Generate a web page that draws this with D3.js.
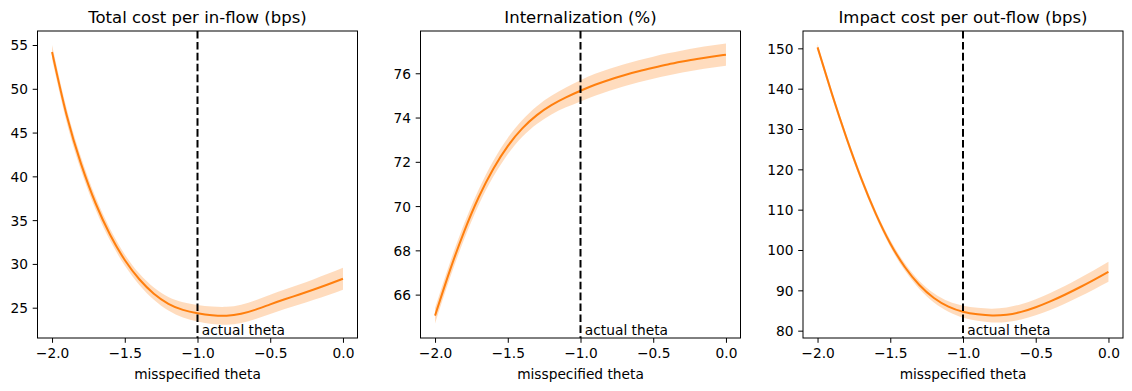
<!DOCTYPE html>
<html>
<head>
<meta charset="utf-8">
<script src="https://cdn.jsdelivr.net/npm/d3@7"></script>
<style>
  body { margin: 0; background: #fff; }
  svg { display: block; font-family: "DejaVu Sans", sans-serif; }
  .tick text { font-size: 13.75px; fill: #000; font-family: "DejaVu Sans", sans-serif; }
</style>
</head>
<body>
<svg></svg>
<script>
// misspecified theta grid
var theta = [-2.0, -1.9, -1.8, -1.7, -1.6, -1.5, -1.4, -1.3, -1.2, -1.1, -1.0,
             -0.9, -0.8, -0.7, -0.6, -0.5, -0.4, -0.3, -0.2, -0.1, 0.0]

var xTicks = [-2.0, -1.5, -1.0, -0.5, 0.0]
var actualTheta = -1.0

// Total cost per in-flow (bps)
var costMean  = [54.2, 47.0, 41.4, 36.9, 33.3, 30.45, 28.25, 26.6, 25.45, 24.75, 24.37,
                 24.14, 24.08, 24.3, 24.78, 25.38, 25.96, 26.51, 27.08, 27.68, 28.31]
var costLower = [53.4, 46.22, 40.65, 36.2, 32.64, 29.81, 27.6, 25.9, 24.67, 23.87, 23.42,
                 23.14, 23.06, 23.25, 23.7, 24.28, 24.84, 25.36, 25.9, 26.46, 27.06]
var costUpper = [55.0, 47.78, 42.15, 37.6, 33.96, 31.09, 28.9, 27.3, 26.23, 25.63, 25.32,
                 25.14, 25.1, 25.35, 25.86, 26.48, 27.08, 27.66, 28.26, 28.9, 29.56]
var costTicks = [25, 30, 35, 40, 45, 50, 55]

// Internalization (%)
var intMean  = [65.05, 67.05, 68.85, 70.4, 71.68, 72.71, 73.51, 74.11, 74.56, 74.91, 75.21,
                75.48, 75.71, 75.91, 76.09, 76.25, 76.4, 76.53, 76.65, 76.75, 76.84]
var intLower = [64.7, 66.7, 68.5, 70.05, 71.32, 72.34, 73.13, 73.71, 74.14, 74.46, 74.73,
                74.98, 75.21, 75.41, 75.59, 75.75, 75.9, 76.03, 76.15, 76.25, 76.34]
var intUpper = [65.4, 67.4, 69.2, 70.75, 72.04, 73.08, 73.89, 74.51, 74.98, 75.36, 75.69,
                75.98, 76.21, 76.41, 76.59, 76.75, 76.9, 77.03, 77.15, 77.25, 77.34]
var intTicks = [66, 68, 70, 72, 74, 76]

// Impact cost per out-flow (bps)
var impMean  = [150.25, 138.58, 127.69, 117.77, 109.02, 101.63, 95.79, 91.32, 88.11, 85.97, 84.7,
                84.05, 83.75, 83.95, 84.65, 85.8, 87.25, 88.9, 90.7, 92.6, 94.6]
var impLower = [149.45, 137.78, 126.89, 116.97, 108.22, 100.78, 94.89, 90.32, 86.96, 84.67, 83.2,
                82.45, 82.05, 82.15, 82.75, 83.8, 85.15, 86.7, 88.4, 90.2, 92.1]
var impUpper = [151.05, 139.38, 128.49, 118.57, 109.82, 102.48, 96.69, 92.32, 89.26, 87.27, 86.2,
                85.65, 85.45, 85.75, 86.55, 87.8, 89.35, 91.1, 93.0, 95.0, 97.1]
var impTicks = [80, 90, 100, 110, 120, 130, 140, 150]

var width = 1132
var height = 391
var plotTop = 31, plotBottom = 338, panelW = 320
var orange = "#ff7f0e"

var svg = d3.select("svg")
    .attr("width", width)
    .attr("height", height)

var panels = [
    {title: "Total cost per in-flow (bps)", left: 37.5, yDomain: [21.54, 56.6],
     mean: costMean, lower: costLower, upper: costUpper, ticks: costTicks},
    {title: "Internalization (%)", left: 420.5, yDomain: [64.04, 77.91],
     mean: intMean, lower: intLower, upper: intUpper, ticks: intTicks},
    {title: "Impact cost per out-flow (bps)", left: 803, yDomain: [78.18, 154.3],
     mean: impMean, lower: impLower, upper: impUpper, ticks: impTicks}
]

function drawPanel(p){
    var xScale = d3.scaleLinear()
                    .domain([-2.1, 0.1])
                    .range([p.left, p.left + panelW])
    var yScale = d3.scaleLinear()
                    .domain(p.yDomain)
                    .range([plotBottom, plotTop])

    var g = svg.append("g")

    var rows = theta.map(function(t, i){
        return {x: t, m: p.mean[i], lo: p.lower[i], hi: p.upper[i]}
    })

    // confidence band
    g.append("path")
        .datum(rows)
        .attr("fill", orange)
        .attr("fill-opacity", 0.27)
        .attr("d", d3.area()
            .x(d => xScale(d.x))
            .y0(d => yScale(d.lo))
            .y1(d => yScale(d.hi))
            .curve(d3.curveNatural))

    g.append("path")
        .datum(rows)
        .attr("fill", "none")
        .attr("stroke", orange)
        .attr("stroke-width", 2)
        .attr("d", d3.line()
            .x(d => xScale(d.x))
            .y(d => yScale(d.m))
            .curve(d3.curveNatural))

    // actual theta marker
    g.append("line")
        .attr("x1", xScale(actualTheta))
        .attr("x2", xScale(actualTheta))
        .attr("y1", plotTop)
        .attr("y2", plotBottom)
        .attr("stroke", "#000")
        .attr("stroke-width", 2)
        .attr("stroke-dasharray", "7.6,3.3")

    g.append("text")
        .text("actual theta")
        .attr("x", xScale(actualTheta + 0.03))
        .attr("y", 334.5)
        .attr("font-size", 13.75)

    var xAxis = d3.axisBottom(xScale)
                    .tickValues(xTicks)
                    .tickFormat(d3.format(".1f"))
                    .tickSize(4.8)
                    .tickPadding(5.7)
                    .tickSizeOuter(0)
    var yAxis = d3.axisLeft(yScale)
                    .tickValues(p.ticks)
                    .tickSize(4.8)
                    .tickPadding(4.8)
                    .tickSizeOuter(0)

    var gx = g.append("g")
        .attr("transform", "translate(0," + plotBottom + ")")
        .call(xAxis)
    var gy = g.append("g")
        .attr("transform", "translate(" + p.left + ",0)")
        .call(yAxis)
    gx.select(".domain").remove()
    gy.select(".domain").remove()
    gy.selectAll(".tick text").attr("dy", "0.36em")
    g.selectAll(".tick line").attr("stroke", "#000").attr("stroke-width", 1)

    // frame
    g.append("rect")
        .attr("x", p.left)
        .attr("y", plotTop)
        .attr("width", panelW)
        .attr("height", plotBottom - plotTop)
        .attr("fill", "none")
        .attr("stroke", "#000")
        .attr("stroke-width", 1)

    g.append("text")
        .text(p.title)
        .attr("x", p.left + panelW / 2)
        .attr("y", 22.75)
        .attr("text-anchor", "middle")
        .attr("font-size", 16.5)

    g.append("text")
        .text("misspecified theta")
        .attr("x", p.left + panelW / 2)
        .attr("y", 379)
        .attr("text-anchor", "middle")
        .attr("font-size", 13.75)
}

panels.forEach(drawPanel)
</script>
</body>
</html>
